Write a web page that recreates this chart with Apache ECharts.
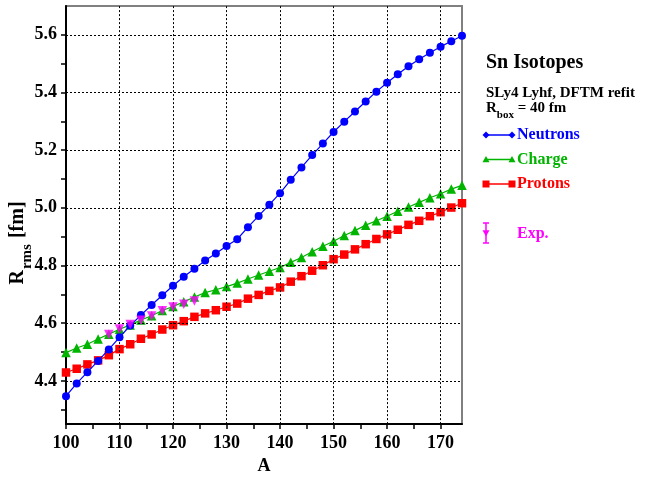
<!DOCTYPE html>
<html>
<head>
<meta charset="utf-8">
<script src="https://cdn.jsdelivr.net/npm/echarts@6/dist/echarts.min.js"></script>
<style>
  html, body { margin: 0; padding: 0; background: #fff; }
  #chart { width: 656px; height: 480px; }
</style>
</head>
<body>
<div id="chart"></div>
<script>
// Mass numbers of the Sn isotopes (even A, 100..174)
const massNumbers = [100, 102, 104, 106, 108, 110, 112, 114, 116, 118, 120, 122, 124,
  126, 128, 130, 132, 134, 136, 138, 140, 142, 144, 146,
  148, 150, 152, 154, 156, 158, 160, 162, 164, 166, 168, 170, 172, 174];

// rms radii [fm]
const neutronRadii = [4.347, 4.391, 4.430, 4.469, 4.509, 4.551, 4.592, 4.628, 4.663, 4.697, 4.730, 4.761, 4.789,
  4.817, 4.842, 4.868, 4.891, 4.933, 4.972, 5.011, 5.051, 5.097, 5.140, 5.183,
  5.223, 5.263, 5.299, 5.334, 5.369, 5.403, 5.434, 5.463, 5.491, 5.515, 5.538, 5.559, 5.578, 5.597];

const chargeRadii = [4.498, 4.514, 4.527, 4.545, 4.562, 4.579, 4.594, 4.611, 4.626, 4.644, 4.658, 4.674, 4.691,
  4.706, 4.716, 4.727, 4.739, 4.753, 4.767, 4.780, 4.793, 4.811, 4.828, 4.848,
  4.867, 4.884, 4.904, 4.921, 4.940, 4.955, 4.971, 4.988, 5.003, 5.019, 5.035, 5.049, 5.065, 5.078];

const protonRadii = [4.429, 4.442, 4.457, 4.471, 4.489, 4.510, 4.527, 4.546, 4.561, 4.578, 4.593, 4.607, 4.622,
  4.634, 4.645, 4.657, 4.668, 4.685, 4.698, 4.712, 4.724, 4.744, 4.763, 4.782,
  4.801, 4.822, 4.838, 4.856, 4.874, 4.892, 4.908, 4.924, 4.941, 4.955, 4.971, 4.985, 5.001, 5.016];

// Measured charge radii
const expMassNumbers = [108, 110, 112, 114, 116, 118, 120, 122, 124];
const expChargeRadii = [4.561, 4.580, 4.595, 4.610, 4.625, 4.643, 4.656, 4.666, 4.677];

// Axis ticks, labels and grid lines
const xLabelValues = [100, 110, 120, 130, 140, 150, 160, 170];
const xTickValues = [100, 105, 110, 115, 120, 125, 130, 135, 140, 145, 150, 155, 160, 165, 170];
const xGridValues = [110, 120, 130, 140, 150, 160, 170];
const yLabelValues = [4.4, 4.6, 4.8, 5.0, 5.2, 5.4, 5.6];
const yTickValues = [4.3, 4.4, 4.5, 4.6, 4.7, 4.8, 4.9, 5.0, 5.1, 5.2, 5.3, 5.4, 5.5, 5.6];

const FONT = '"Liberation Serif", "Times New Roman", serif';
const BLUE = '#0000ff', GREEN = '#00b400', RED = '#ff0000', MAGENTA = '#ff00ff';

function pairs(xs, ys) { return xs.map((x, i) => [x, ys[i]]); }

const chart = echarts.init(document.getElementById('chart'), null, { renderer: 'canvas' });

const dotted = { color: '#000', type: [2, 2], width: 1 };

// Legend block on the right, drawn as graphic elements
const LX0 = 486, LX1 = 512, LTX = 517;
function legendText(y, text, color) {
  return { type: 'text', x: LTX, y: y, style: { text: text, fill: color, font: 'bold 16px ' + FONT, verticalAlign: 'middle' } };
}
function legendLine(y, color) {
  return { type: 'line', shape: { x1: LX0, y1: y, x2: LX1, y2: y }, style: { stroke: color, lineWidth: 1.5 } };
}
function diamond(cx, cy, r, color) {
  return { type: 'polygon', shape: { points: [[cx, cy - r], [cx + r, cy], [cx, cy + r], [cx - r, cy]] }, style: { fill: color } };
}
function triUp(cx, cy, r, color) {
  return { type: 'polygon', shape: { points: [[cx, cy - r], [cx + r, cy + r * 0.8], [cx - r, cy + r * 0.8]] }, style: { fill: color } };
}
function triDown(cx, cy, r, color) {
  return { type: 'polygon', shape: { points: [[cx - r, cy - r * 0.8], [cx + r, cy - r * 0.8], [cx, cy + r]] }, style: { fill: color } };
}
function square(cx, cy, r, color) {
  return { type: 'rect', shape: { x: cx - r, y: cy - r, width: 2 * r, height: 2 * r }, style: { fill: color } };
}

const graphics = [
  { type: 'text', x: 486, y: 63, style: { text: 'Sn Isotopes', fill: '#000', font: 'bold 20px ' + FONT, verticalAlign: 'middle' } },
  { type: 'text', x: 486, y: 93, style: { text: 'SLy4 Lyhf, DFTM refit', fill: '#000', font: 'bold 15px ' + FONT, verticalAlign: 'middle' } },
  { type: 'text', x: 486, y: 108, style: {
      text: '{m|R}{s|box}{m| = 40 fm}', verticalAlign: 'middle',
      rich: {
        m: { fontFamily: FONT, fontWeight: 'bold', fontSize: 15, fill: '#000', lineHeight: 16 },
        s: { fontFamily: FONT, fontWeight: 'bold', fontSize: 11, fill: '#000', verticalAlign: 'bottom', lineHeight: 12, padding: [0, 0, -5, 0] }
      } } },

  legendLine(135, BLUE), diamond(LX0, 135, 3.5, BLUE), diamond(LX1, 135, 3.5, BLUE), legendText(135, 'Neutrons', BLUE),
  legendLine(159.5, GREEN), triUp(LX0, 159.5, 3.5, GREEN), triUp(LX1, 159.5, 3.5, GREEN), legendText(159.5, 'Charge', GREEN),
  legendLine(184, RED), square(LX0, 184, 3.5, RED), square(LX1, 184, 3.5, RED), legendText(184, 'Protons', RED),

  { type: 'line', shape: { x1: LX0, y1: 223, x2: LX0, y2: 243 }, style: { stroke: MAGENTA, lineWidth: 1.5 } },
  { type: 'line', shape: { x1: LX0 - 3, y1: 223, x2: LX0 + 3, y2: 223 }, style: { stroke: MAGENTA, lineWidth: 1.5 } },
  { type: 'line', shape: { x1: LX0 - 3, y1: 243, x2: LX0 + 3, y2: 243 }, style: { stroke: MAGENTA, lineWidth: 1.5 } },
  triDown(LX0, 233, 3.5, MAGENTA),
  legendText(234, 'Exp.', MAGENTA),

  // y-axis title with subscript
  { type: 'text', x: 18, y: 243, rotation: Math.PI / 2, style: {
      text: '{m|R}{s|rms}{m| [fm]}', align: 'center', verticalAlign: 'middle',
      rich: {
        m: { fontFamily: FONT, fontWeight: 'bold', fontSize: 20, fill: '#000', lineHeight: 22 },
        s: { fontFamily: FONT, fontWeight: 'bold', fontSize: 15, fill: '#000', verticalAlign: 'bottom', lineHeight: 16, padding: [0, 1, -6, 1] }
      } } }
];

// Dotted grid drawn as mark lines on the axes' scales
const gridMarks = xGridValues.map(v => ({ xAxis: v })).concat(yLabelValues.map(v => ({ yAxis: v })));

const option = {
  animation: false,
  backgroundColor: '#fff',
  grid: { left: 66, top: 6, right: 194, bottom: 42, show: true, borderColor: '#808080', borderWidth: 2 },
  xAxis: {
    type: 'value', min: 100, max: 174, interval: 10,
    axisLine: { show: true, onZero: false, lineStyle: { color: '#000', width: 2 } },
    axisTick: { show: true, length: 5, customValues: xTickValues, lineStyle: { color: '#000', width: 1.5 } },
    axisLabel: { customValues: xLabelValues, fontFamily: FONT, fontWeight: 'bold', fontSize: 18, color: '#000', margin: 10 },
    splitLine: { show: false },
    name: 'A', nameLocation: 'middle', nameGap: 26,
    nameTextStyle: { fontFamily: FONT, fontWeight: 'bold', fontSize: 18, color: '#000' }
  },
  yAxis: {
    type: 'value', min: 4.25, max: 5.7,
    axisLine: { show: true, onZero: false, lineStyle: { color: '#000', width: 2 } },
    axisTick: { show: true, length: 5, customValues: yTickValues, lineStyle: { color: '#000', width: 1.5 } },
    axisLabel: { customValues: yLabelValues, formatter: v => v.toFixed(1),
      fontFamily: FONT, fontWeight: 'bold', fontSize: 18, color: '#000', margin: 9 },
    splitLine: { show: false }
  },
  series: [
    { name: 'grid', type: 'line', data: [], z: 1, silent: true,
      markLine: { silent: true, symbol: ['none', 'none'], label: { show: false },
        lineStyle: dotted, emphasis: { disabled: true }, data: gridMarks } },
    { name: 'Protons', type: 'line', data: pairs(massNumbers, protonRadii),
      symbol: 'rect', symbolSize: 8.5, itemStyle: { color: RED }, lineStyle: { color: RED, width: 1.2 }, z: 3 },
    { name: 'Charge', type: 'line', data: pairs(massNumbers, chargeRadii),
      symbol: 'triangle', symbolSize: 9.5, itemStyle: { color: GREEN }, lineStyle: { color: GREEN, width: 1.2 }, z: 4 },
    { name: 'Neutrons', type: 'line', data: pairs(massNumbers, neutronRadii),
      symbol: 'circle', symbolSize: 8, itemStyle: { color: BLUE }, lineStyle: { color: BLUE, width: 1.2 }, z: 5 },
    { name: 'Exp.', type: 'scatter', data: pairs(expMassNumbers, expChargeRadii),
      symbol: 'triangle', symbolRotate: 180, symbolSize: 9.5, itemStyle: { color: MAGENTA }, z: 6 }
  ],
  graphic: graphics
};

chart.setOption(option);
</script>
</body>
</html>
